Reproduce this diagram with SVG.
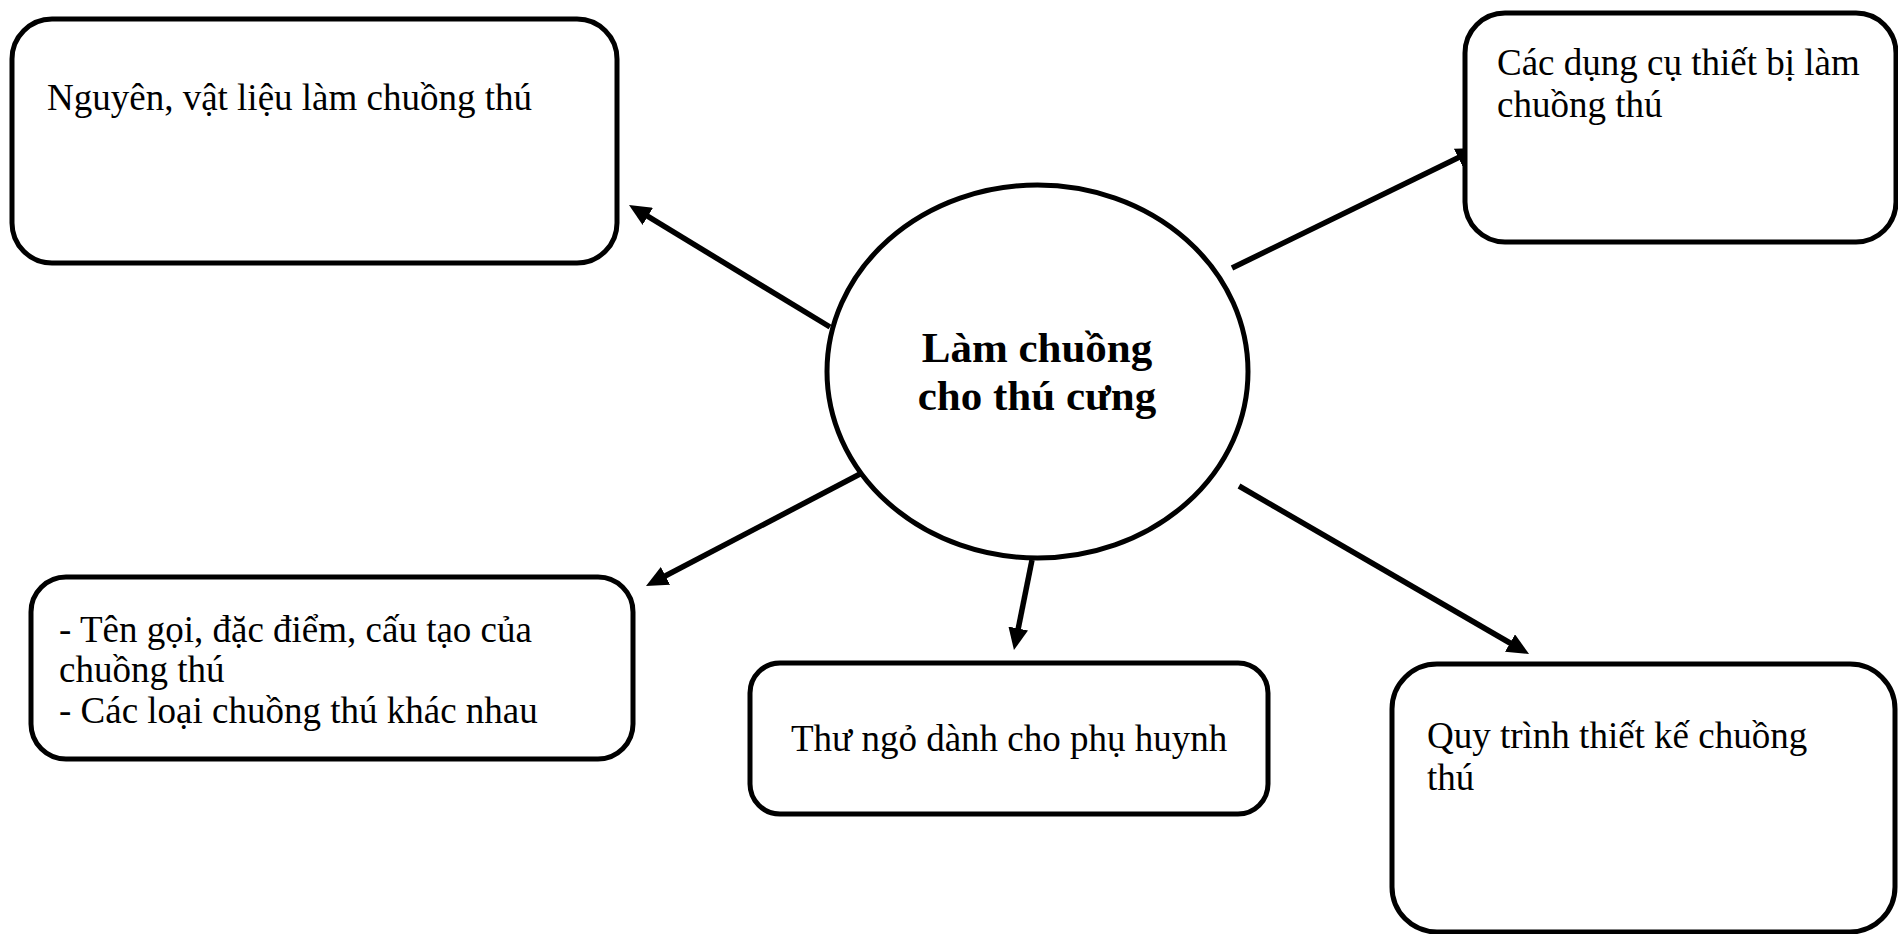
<svg xmlns="http://www.w3.org/2000/svg" width="1898" height="934" viewBox="0 0 1898 934">
<style>
.box{fill:#fff;stroke:#000;stroke-width:5}
.t{font-family:"Liberation Serif","Times New Roman",serif;font-size:37px;fill:#000}
.tb{font-family:"Liberation Serif","Times New Roman",serif;font-size:43px;font-weight:bold;fill:#000;text-anchor:middle}
.c{stroke:#000;stroke-width:5.5;fill:none;marker-end:url(#ah)}
</style>
<defs>
<marker id="ah" viewBox="0 0 22 20" refX="9" refY="10" markerWidth="22" markerHeight="20" markerUnits="userSpaceOnUse" orient="auto">
<path d="M0,0 L22,10 L0,20 z" fill="#000"/>
</marker>
</defs>
<rect width="1898" height="934" fill="#fff"/>
<g id="connectors">
<line class="c" x1="830" y1="327" x2="640.1" y2="211.7"/>
<line class="c" x1="1232" y1="268" x2="1466.3" y2="153.7"/>
<line class="c" x1="860" y1="474" x2="657.5" y2="580"/>
<line class="c" x1="1032" y1="560" x2="1016.5" y2="637.3"/>
<line class="c" x1="1239" y1="486" x2="1517.8" y2="647.5"/>
</g>
<g id="center">
<ellipse class="box" cx="1037.5" cy="371.5" rx="210.5" ry="186.5"/>
<text class="tb" x="1037" y="362">Làm chuồng</text>
<text class="tb" x="1037" y="410">cho thú cưng</text>
</g>
<g id="materials">
<rect class="box" x="12" y="19" width="605" height="244" rx="40" ry="40"/>
<text class="t" x="47" y="110">Nguyên, vật liệu làm chuồng thú</text>
</g>
<g id="tools">
<rect class="box" x="1465" y="13" width="431" height="229" rx="40" ry="40"/>
<text class="t" x="1497" y="75">Các dụng cụ thiết bị làm</text>
<text class="t" x="1497" y="117">chuồng thú</text>
</g>
<g id="types">
<rect class="box" x="31" y="577" width="602" height="182" rx="35" ry="35"/>
<text class="t" x="59" y="642">- Tên gọi, đặc điểm, cấu tạo của</text>
<text class="t" x="59" y="682">chuồng thú</text>
<text class="t" x="59" y="723">- Các loại chuồng thú khác nhau</text>
</g>
<g id="letter">
<rect class="box" x="750" y="663" width="518" height="151" rx="30" ry="30"/>
<text class="t" x="791" y="751">Thư ngỏ dành cho phụ huynh</text>
</g>
<g id="process">
<rect class="box" x="1392" y="664" width="503" height="268" rx="45" ry="45"/>
<text class="t" x="1427" y="748">Quy trình thiết kế chuồng</text>
<text class="t" x="1427" y="790">thú</text>
</g>
</svg>
